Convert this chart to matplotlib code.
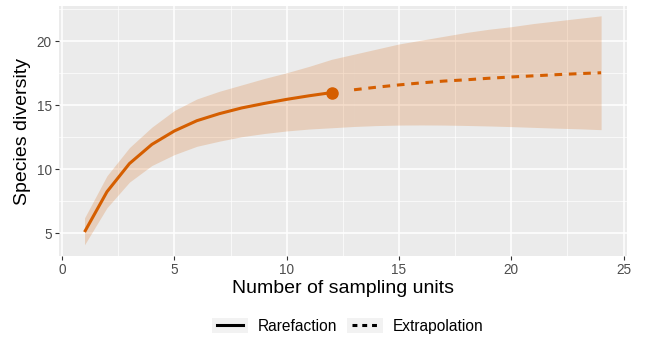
import numpy as np
import matplotlib
matplotlib.use("Agg")
import matplotlib.pyplot as plt
from matplotlib.lines import Line2D
from matplotlib.patches import Rectangle
from matplotlib.legend_handler import HandlerBase

plt.rcParams['font.family'] = ['Liberation Sans', 'DejaVu Sans']

# rarefaction part (observed sampling units)
rare_x = [1, 2, 3, 4, 5, 6, 7, 8, 9, 10, 11, 12]
rare_y = [5.1, 8.25, 10.45, 11.95, 13.0, 13.8, 14.35, 14.8, 15.15, 15.47, 15.75, 16.0]
rare_lo = [4.1, 7.0, 9.0, 10.3, 11.15, 11.8, 12.2, 12.55, 12.8, 13.0, 13.15, 13.25]
rare_hi = [6.2, 9.5, 11.7, 13.3, 14.6, 15.5, 16.1, 16.6, 17.1, 17.55, 18.05, 18.6]

# extrapolation part
extra_x = [12, 13, 14, 15, 16, 17, 18, 19, 20, 21, 22, 23, 24]
extra_y = [16.0, 16.22, 16.42, 16.6, 16.76, 16.9, 17.0, 17.12, 17.22, 17.31, 17.4, 17.48, 17.55]
extra_lo = [13.25, 13.35, 13.42, 13.46, 13.47, 13.46, 13.43, 13.39, 13.34, 13.28, 13.22, 13.17, 13.1]
extra_hi = [18.6, 19.0, 19.4, 19.8, 20.1, 20.4, 20.7, 20.95, 21.15, 21.4, 21.6, 21.8, 22.0]

x_ticks = [0, 5, 10, 15, 20, 25]
y_ticks = [5, 10, 15, 20]

col = '#D55E00'
bg = '#EBEBEB'
dash = (0, (2.5, 2.2))


# legend key like ggplot: grey box with a shorter line inside
class KeyHandler(HandlerBase):
    def create_artists(self, legend, orig, xdescent, ydescent, width, height, fontsize, trans):
        box = Rectangle((-xdescent, -ydescent), width, height, facecolor='#F2F2F2',
                        edgecolor='none', transform=trans)
        pad = width * 0.14
        y = height / 2 - ydescent
        line = Line2D([-xdescent + pad, -xdescent + width - pad], [y, y])
        line.update_from(orig)
        line.set_transform(trans)
        return [box, line]


fig = plt.figure(figsize=(6.45, 3.39), dpi=100)
ax = fig.add_axes([0.091, 0.245, 0.881, 0.737])
ax.set_facecolor(bg)
for s in ax.spines.values():
    s.set_visible(False)

# minor + major grid
for v in [2.5, 7.5, 12.5, 17.5, 22.5]:
    ax.axvline(v, color='white', lw=0.5, zorder=0)
for v in [7.5, 12.5, 17.5, 22.5]:
    ax.axhline(v, color='white', lw=0.5, zorder=0)
for v in x_ticks:
    ax.axvline(v, color='white', lw=1.1, zorder=0)
for v in y_ticks:
    ax.axhline(v, color='white', lw=1.1, zorder=0)

ax.fill_between(rare_x, rare_lo, rare_hi, color=col, alpha=0.2, lw=0, zorder=1)
ax.fill_between(extra_x[1:], extra_lo[1:], extra_hi[1:], color=col, alpha=0.2, lw=0, zorder=1)
ax.fill_between(extra_x[:2], extra_lo[:2], extra_hi[:2], color=col, alpha=0.2, lw=0, zorder=1)

ax.plot(rare_x, rare_y, color=col, lw=2.2, solid_capstyle='butt', zorder=3)
ax.plot(extra_x[1:], extra_y[1:], color=col, lw=2.2, ls=dash, zorder=3)
ax.plot([rare_x[-1]], [rare_y[-1]], 'o', color=col, ms=8, zorder=4)

ax.set_xlim(-0.15, 25.15)
ax.set_ylim(3.23, 22.76)
ax.set_xticks(x_ticks)
ax.set_yticks(y_ticks)
ax.tick_params(colors='#333333', labelcolor='#4D4D4D', labelsize=9.8, length=3, width=0.8, pad=2)
ax.set_xlabel('Number of sampling units', fontsize=14, labelpad=2)
ax.set_ylabel('Species diversity', fontsize=14, labelpad=4)

handles = [Line2D([], [], color='black', lw=2.2),
           Line2D([], [], color='black', lw=2.2, ls=(0, (1.6, 1.6)))]
leg = fig.legend(handles, ['Rarefaction', 'Extrapolation'], loc='center',
                 bbox_to_anchor=(0.539, 0.039), ncol=2, frameon=False,
                 fontsize=11.2, handlelength=2.3, handleheight=1.1,
                 columnspacing=0.64, handletextpad=0.64,
                 handler_map={Line2D: KeyHandler()})

fig.savefig('out.png', dpi=100)
